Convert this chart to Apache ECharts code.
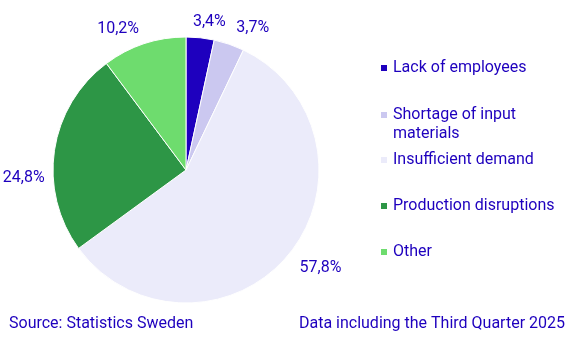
<!DOCTYPE html>
<html>
<head>
<meta charset="utf-8">
<script src="https://cdn.jsdelivr.net/npm/echarts@6/dist/echarts.min.js"></script>
<style>
html,body{margin:0;padding:0;background:#fff;}
#main{width:567px;height:341px;}
</style>
</head>
<body>
<div id="main"></div>
<script>
const categories = ['Lack of employees', 'Shortage of input materials', 'Insufficient demand', 'Production disruptions', 'Other'];
const values = [3.4, 3.7, 57.8, 24.8, 10.2];
const colors = ['#1e00be', '#cbc8f0', '#ebebfa', '#2d9646', '#6edc6e'];
const legendCenters = [68, 115, 160, 206, 252];
const sourceText = 'Source: Statistics Sweden';
const noteText = 'Data including the Third Quarter 2025';

const textColor = '#1e00be';
const font = 'Roboto, "Noto Sans", sans-serif';

// small label nudges (layout only)
const labelNudges = {0: {dx: -9, dy: 0}, 1: {dx: 2, dy: -1}, 2: {dx: -1, dy: 3}, 3: {dx: 6, dy: 30}};

const chart = echarts.init(document.getElementById('main'), null, {renderer: 'canvas'});

const legends = categories.map((name, i) => {
  const multi = name === 'Shortage of input materials';
  return {
    orient: 'vertical',
    left: 379,
    top: multi ? legendCenters[i] - 28.5 : legendCenters[i] - 9.5,
    padding: 0,
    itemWidth: 8,
    itemHeight: 8,
    icon: 'rect',
    selectedMode: false,
    data: [name],
    formatter: n => n === 'Shortage of input materials' ? '\nShortage of input\nmaterials' : n,
    textStyle: {
      color: textColor,
      fontFamily: font,
      fontSize: 16,
      lineHeight: 19
    }
  };
});

chart.setOption({
  animation: false,
  backgroundColor: '#fff',
  color: colors,
  legend: legends,
  graphic: [
    {type: 'text', left: 9, top: 316, style: {text: sourceText, fill: textColor, font: '16px ' + font}},
    {type: 'text', right: 2, top: 316, style: {text: noteText, fill: textColor, font: '16px ' + font}}
  ],
  series: [{
    type: 'pie',
    center: [186, 170],
    radius: 133,
    startAngle: 90,
    clockwise: true,
    avoidLabelOverlap: false,
    itemStyle: {borderColor: '#fff', borderWidth: 1},
    label: {
      show: true,
      position: 'outside',
      color: textColor,
      fontFamily: font,
      fontSize: 16,
      distanceToLabelLine: 0,
      formatter: p => p.value.toFixed(1).replace('.', ',') + '%'
    },
    labelLine: {show: false, length: 16, length2: 0},
    labelLayout: p => Object.assign({hideOverlap: false}, labelNudges[p.dataIndex] || {}),
    emphasis: {disabled: true},
    data: categories.map((c, i) => ({name: c, value: values[i], itemStyle: {color: colors[i]}}))
  }]
});
</script>
</body>
</html>
